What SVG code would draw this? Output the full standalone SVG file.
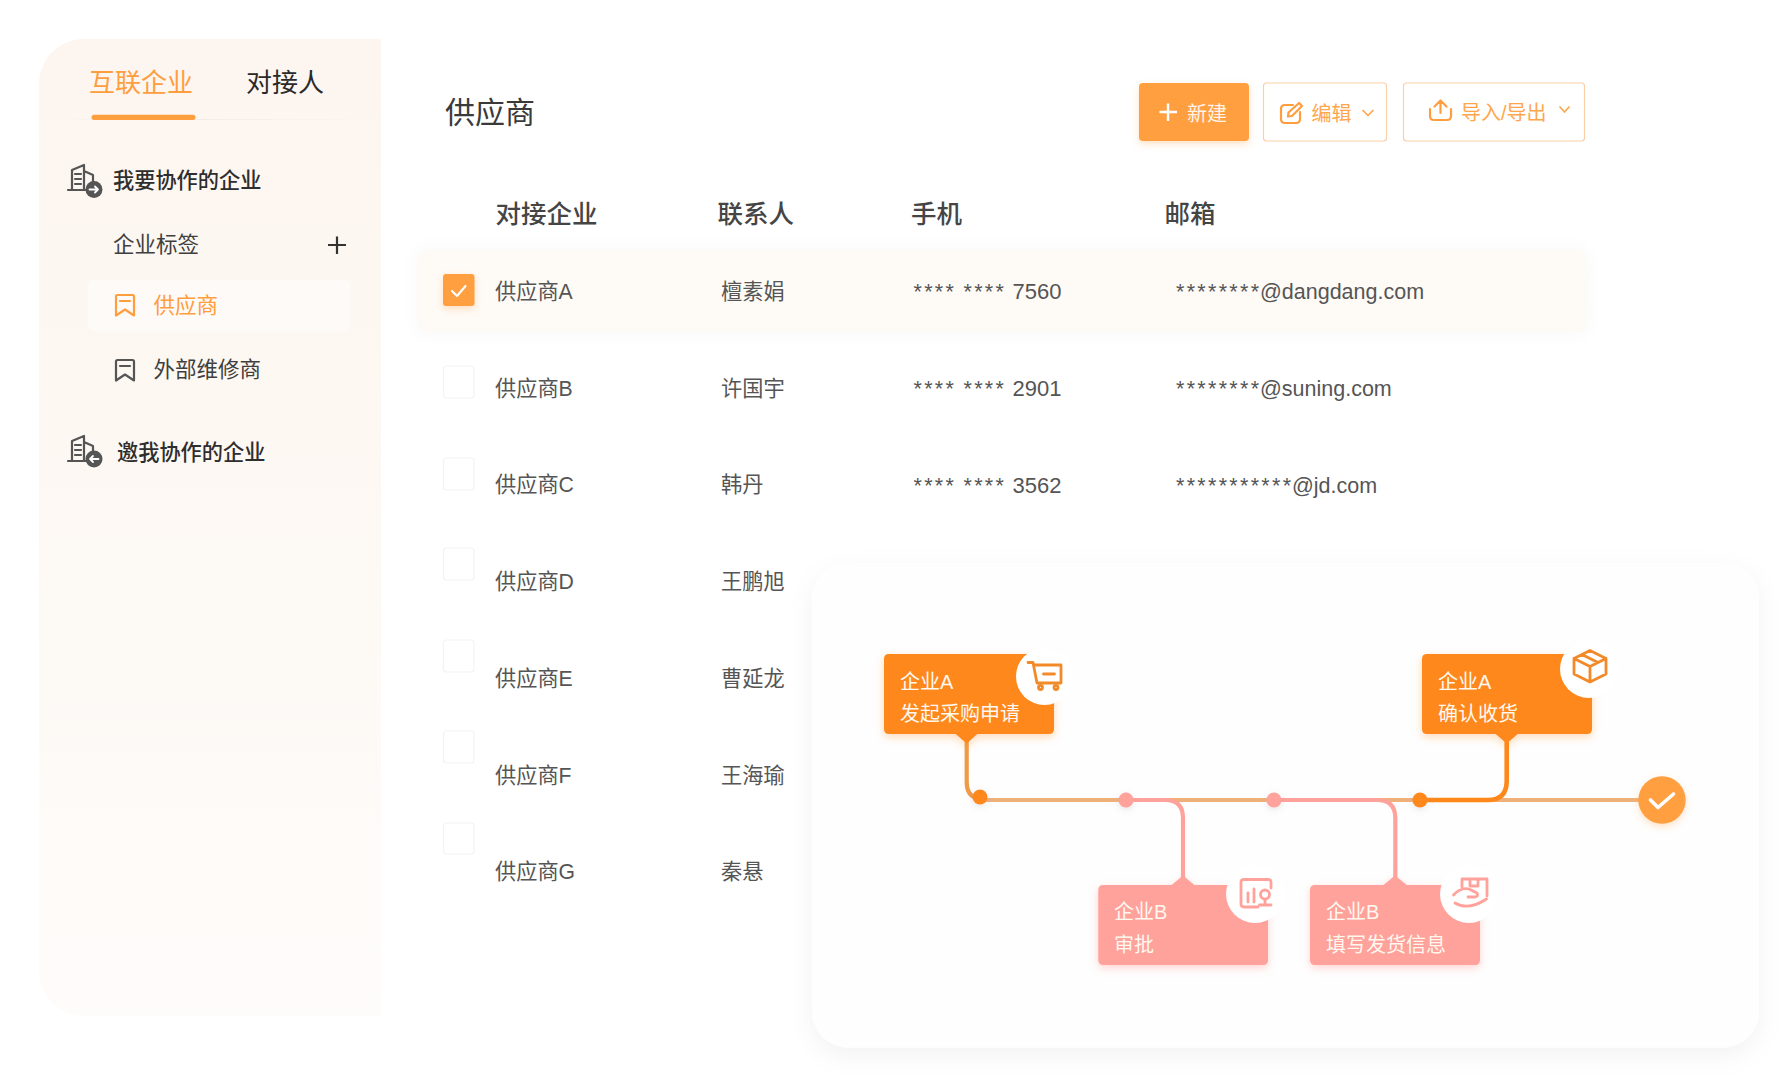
<svg xmlns="http://www.w3.org/2000/svg" width="1788" height="1087" viewBox="0 0 1788 1087">
<style>
text{font-family:"Liberation Sans","Noto Sans CJK SC",sans-serif;}
.tab{font-size:26px}
.side{font-size:21.500px;fill:#3f3f3f}
.sideb{font-size:21.200px;fill:#2e2e2e;font-weight:500}
.th{font-size:25.500px;fill:#454545;font-weight:500}
.td{font-size:21.200px;fill:#555}
.ph{font-size:22px;fill:#555}
.em{font-size:21.500px;fill:#555}
.star{letter-spacing:2.300px;font-size:21.500px}
.btn{font-size:20px;fill:#ffa64d}
.ntx{font-size:20px;fill:#fff8f0}
.cb{fill:#fff;stroke:#f3f3f3;stroke-width:1.200}
.ic{fill:none;stroke-linecap:round;stroke-linejoin:round}
.icg{stroke:#555;stroke-width:2.200}
.ico{stroke:#ff9e3f;stroke-width:2.200}
.icl{stroke:#ffa64d;stroke-width:1.700}
.icn{stroke:#f38a2a;stroke-width:2.800}
.icp{stroke:#ffa29b;stroke-width:2.800}
.ln{fill:none;stroke-linecap:round}
.outl{fill:#fff;stroke:#f9d0a8;stroke-width:1.200}
</style>
<defs>
<linearGradient id="sg" x1="0" y1="0" x2="0" y2="1"><stop offset="0" stop-color="#fdf6f0"/><stop offset="0.45" stop-color="#fdf8f3"/><stop offset="1" stop-color="#fefcfa"/></linearGradient>
<linearGradient id="dv" x1="0" y1="0" x2="1" y2="0"><stop offset="0" stop-color="#f3ece6" stop-opacity="0"/><stop offset="0.3" stop-color="#f0e8e1"/><stop offset="1" stop-color="#f3ece6" stop-opacity="0"/></linearGradient>
<filter id="fc" x="-10%" y="-10%" width="120%" height="125%"><feDropShadow dx="0" dy="8" stdDeviation="12" flood-color="#000" flood-opacity="0.05"/></filter>
<filter id="fr" x="-5%" y="-30%" width="110%" height="160%"><feDropShadow dx="0" dy="0" stdDeviation="10" flood-color="#f0ecef" flood-opacity="0.45"/></filter>
<filter id="fo" x="-20%" y="-30%" width="140%" height="170%"><feDropShadow dx="0" dy="3" stdDeviation="4" flood-color="#ff881b" flood-opacity="0.3"/></filter>
<filter id="fp" x="-20%" y="-30%" width="140%" height="170%"><feDropShadow dx="0" dy="3" stdDeviation="4" flood-color="#ffa29b" flood-opacity="0.45"/></filter>
<filter id="fd" x="-100%" y="-100%" width="300%" height="300%"><feDropShadow dx="0" dy="2" stdDeviation="3" flood-color="#888" flood-opacity="0.22"/></filter>
<filter id="fk" x="-50%" y="-50%" width="200%" height="200%"><feDropShadow dx="0" dy="3" stdDeviation="3.500" flood-color="#ff9e3f" flood-opacity="0.3"/></filter>
<g id="bld" class="ic icg"><path d="M68 190H93M72 190V170L84 165V190M84 171L93 175V183M75 174H81M75 179H81M75 184H81"/></g>
<path id="bm" d="M116 296.500Q116 295 117.500 295H132.500Q134 295 134 296.500V315.500L125 309.500L116 315.500ZM120 301H130"/>
</defs>

<g id="sidebar">
<path d="M84 39H381V1016H84A45 45 0 0 1 39 971V84A45 45 0 0 1 84 39Z" fill="url(#sg)"/>
<rect x="60" y="119" width="320" height="1" fill="url(#dv)"/>
<rect x="91.500" y="114.700" width="104" height="5.200" rx="2.600" fill="#ff9e3f"/>
</g>
<g id="tab-partner"><text class="tab" x="89" y="92" fill="#ff9e3f">互联企业</text></g>
<g id="tab-contact"><text class="tab" x="246" y="92" fill="#2a2a2a">对接人</text></g>

<g id="group-want">
<use href="#bld"/><circle cx="94" cy="189.500" r="8.500" fill="#555"/><path d="M89.500 189.500H98M95 186.500L98 189.500L95 192.500" fill="none" stroke="#fff" stroke-width="1.800" stroke-linecap="round" stroke-linejoin="round"/>
<text class="sideb" x="113" y="188">我要协作的企业</text>
</g>
<g id="group-tag">
<text class="side" x="113" y="252">企业标签</text>
<path d="M337 236.500V254M328 245H346" stroke="#333" stroke-width="2.200" fill="none"/>
</g>
<g id="item-supplier">
<rect x="88" y="279.500" width="262" height="52" rx="7" fill="#fdfaf8"/>
<use href="#bm" class="ic ico"/>
<text class="side" x="153.500" y="313" style="fill:#ff9e3f">供应商</text>
</g>
<g id="item-repair">
<use href="#bm" y="65" class="ic icg"/>
<text class="side" x="153.500" y="377">外部维修商</text>
</g>
<g id="group-invited">
<use href="#bld" y="271"/><circle cx="94" cy="459" r="8.500" fill="#555"/><path d="M98.500 459H90M93 456L90 459L93 462" fill="none" stroke="#fff" stroke-width="1.800" stroke-linecap="round" stroke-linejoin="round"/>
<text class="sideb" x="117" y="460">邀我协作的企业</text>
</g>

<g id="title"><text x="445" y="123" font-size="30" fill="#3a3a3a">供应商</text></g>
<g id="btn-new">
<rect x="1139" y="83" width="110" height="58" rx="4" fill="#ff9f40" filter="url(#fk)"/>
<path d="M1168 103.500V121M1159.500 112H1177" stroke="#fff" stroke-width="2.400" fill="none"/>
<text class="btn" x="1187" y="121" style="fill:#fff4e8">新建</text>
</g>
<g id="btn-edit">
<rect class="outl" x="1263.500" y="83" width="123" height="58" rx="3"/>
<path class="ic ico" d="M1293 105H1285Q1281 105 1281 109V119Q1281 123 1285 123H1296Q1300 123 1300 119V112M1299 103L1302 106L1292 116L1288 116.500L1288.500 112.500Z"/>
<text class="btn" x="1311.500" y="121">编辑</text>
<path class="ic icl" d="M1363 110.500L1368 115.500L1373 110.500"/>
</g>
<g id="btn-io">
<rect class="outl" x="1403.500" y="83" width="181" height="58" rx="3"/>
<path class="ic ico" d="M1430 109V116Q1430 120 1434 120H1447Q1451 120 1451 116V109M1440.500 113V101M1434.500 106.500L1440.500 100.500L1446.500 106.500"/>
<text class="btn" x="1461" y="120">导入/导出</text>
<path class="ic icl" d="M1560 107L1564.500 112L1569 107"/>
</g>

<g id="table-head">
<text class="th" x="495.500" y="223">对接企业</text>
<text class="th" x="717.500" y="223">联系人</text>
<text class="th" x="911" y="223">手机</text>
<text class="th" x="1164.500" y="223">邮箱</text>
</g>

<g id="row-a">
<rect x="418" y="250" width="1168" height="82" rx="8" fill="#fefaf6" filter="url(#fr)"/>
<rect x="443" y="274" width="31.500" height="32" rx="3" fill="#ff9f40" filter="url(#fk)"/>
<path d="M452 291L457 296L465.500 286" fill="none" stroke="#fff" stroke-width="2.200" stroke-linecap="round" stroke-linejoin="round"/>
<text class="td" x="495" y="298.500">供应商A</text>
<text class="td" x="721" y="298.500">檀素娟</text>
<text class="ph" x="913.500" y="298.500"><tspan class="star">****</tspan><tspan x="963.500" class="star">****</tspan><tspan x="1012.500">7560</tspan></text>
<text class="em" x="1176" y="298.500"><tspan class="star">********</tspan><tspan x="1260">@dangdang.com</tspan></text>
</g>
<g id="row-b">
<rect class="cb" x="443.500" y="366" width="30.500" height="32" rx="3"/>
<text class="td" x="495" y="395.500">供应商B</text>
<text class="td" x="721" y="395.500">许国宇</text>
<text class="ph" x="913.500" y="395.500"><tspan class="star">****</tspan><tspan x="963.500" class="star">****</tspan><tspan x="1012.500">2901</tspan></text>
<text class="em" x="1176" y="395.500"><tspan class="star">********</tspan><tspan x="1260">@suning.com</tspan></text>
</g>
<g id="row-c">
<rect class="cb" x="443.500" y="458" width="30.500" height="32" rx="3"/>
<text class="td" x="495" y="492">供应商C</text>
<text class="td" x="721" y="492">韩丹</text>
<text class="ph" x="913.500" y="493"><tspan class="star">****</tspan><tspan x="963.500" class="star">****</tspan><tspan x="1012.500">3562</tspan></text>
<text class="em" x="1176" y="493"><tspan class="star">***********</tspan><tspan x="1292">@jd.com</tspan></text>
</g>
<g id="row-d">
<rect class="cb" x="443.500" y="548" width="30.500" height="32" rx="3"/>
<text class="td" x="495" y="589">供应商D</text>
<text class="td" x="721" y="589">王鹏旭</text>
</g>
<g id="row-e">
<rect class="cb" x="443.500" y="640" width="30.500" height="32" rx="3"/>
<text class="td" x="495" y="686">供应商E</text>
<text class="td" x="721" y="686">曹延龙</text>
</g>
<g id="row-f">
<rect class="cb" x="443.500" y="731" width="30.500" height="32" rx="3"/>
<text class="td" x="495" y="783">供应商F</text>
<text class="td" x="721" y="783">王海瑜</text>
</g>
<g id="row-g">
<rect class="cb" x="443.500" y="823" width="30.500" height="31" rx="3"/>
<text class="td" x="495" y="878.500">供应商G</text>
<text class="td" x="721" y="878.500">秦悬</text>
</g>

<g id="flow" transform="translate(0 -1)">
<g id="card"><rect x="812" y="564" width="947" height="484.500" rx="36" fill="#fefefe" filter="url(#fc)"/></g>

<g id="connectors">
<path class="ln" d="M980 801H1650" stroke="#f0b07a" stroke-width="4.200"/>
<path class="ln" d="M966.700 742V783Q966.700 796 976 799" stroke="#f19a46" stroke-width="4.200"/>
<path class="ln" d="M1126 801H1165Q1183 801 1183 819V880" stroke="#ffa29b" stroke-width="4.200"/>
<path class="ln" d="M1274 801H1377Q1395.300 801 1395.300 819V880" stroke="#ffa29b" stroke-width="4.200"/>
<path class="ln" d="M1420 801H1488Q1506.700 801 1506.700 782V742" stroke="#ff881b" stroke-width="4.600"/>
</g>

<g id="dot-1"><circle cx="980" cy="798" r="7.500" fill="#ff881b" filter="url(#fd)"/></g>
<g id="dot-2"><circle cx="1126" cy="801" r="7.500" fill="#ffa29b" filter="url(#fd)"/></g>
<g id="dot-3"><circle cx="1274" cy="801" r="7.500" fill="#ffa29b" filter="url(#fd)"/></g>
<g id="dot-4"><circle cx="1420" cy="801" r="7.500" fill="#ff881b" filter="url(#fd)"/></g>

<g id="node-a1">
<path d="M889 655H1049Q1054 655 1054 660V730Q1054 735 1049 735H977.300L966.700 744.500L955.700 735H889Q884 735 884 730V660Q884 655 889 655Z" fill="#ff881b" filter="url(#fo)"/>
<circle cx="1044.500" cy="677.500" r="28.500" fill="#fff"/>
<path class="ic icn" d="M1028 663.500H1033L1037 684H1061V666H1035M1043.500 675H1054.500"/>
<circle class="ic icn" cx="1040.500" cy="688.500" r="2"/><circle class="ic icn" cx="1056" cy="688.500" r="2"/>
<text class="ntx" x="900" y="690">企业A</text>
<text class="ntx" x="900" y="722">发起采购申请</text>
</g>
<g id="node-a2">
<path d="M1427 655H1587Q1592 655 1592 660V730Q1592 735 1587 735H1517.700L1506.700 744.500L1495.700 735H1427Q1422 735 1422 730V660Q1422 655 1427 655Z" fill="#ff881b" filter="url(#fo)"/>
<circle cx="1589" cy="670" r="29" fill="#fff"/>
<path class="ic icn" d="M1590 651.500L1606 659.500V675L1590 683L1574 675V659.500ZM1574 659.500L1590 667.500L1606 659.500M1590 667.500V683M1582 655.500L1598 663.500"/>
<text class="ntx" x="1438" y="690">企业A</text>
<text class="ntx" x="1438" y="722">确认收货</text>
</g>
<g id="node-b1">
<path d="M1103.300 886H1171.700L1183 876.500L1194.300 886H1263Q1268 886 1268 891V961Q1268 966 1263 966H1103.300Q1098.300 966 1098.300 961V891Q1098.300 886 1103.300 886Z" fill="#ffa29b" filter="url(#fp)"/>
<circle cx="1255" cy="895" r="29" fill="#fff"/>
<path class="ic icp" d="M1271 889V883Q1271 880.500 1268 880.500H1244Q1241 880.500 1241 883V905Q1241 908 1244 908H1258M1248 894V903M1254 890V903M1265 900.500V906M1259.500 906H1271"/>
<circle class="ic icp" cx="1265" cy="895.500" r="4.500"/>
<text class="ntx" x="1114" y="920">企业B</text>
<text class="ntx" x="1114" y="953">审批</text>
</g>
<g id="node-b2">
<path d="M1315 886H1383.500L1395 876.500L1406.700 886H1475Q1480 886 1480 891V961Q1480 966 1475 966H1315Q1310 966 1310 961V891Q1310 886 1315 886Z" fill="#ffa29b" filter="url(#fp)"/>
<circle cx="1469" cy="895" r="29" fill="#fff"/>
<path class="ic icp" d="M1462 888V880H1487V897M1470 880.500V887H1478V880.500M1453.500 896Q1461 888 1469 890L1477 894Q1479 897 1475 898H1468M1455 904Q1468 912 1486.500 900"/>
<text class="ntx" x="1326" y="920">企业B</text>
<text class="ntx" x="1326" y="953">填写发货信息</text>
</g>
<g id="end">
<circle cx="1662" cy="801" r="23.700" fill="#ff9f40" filter="url(#fk)"/>
<path d="M1650.500 801L1658 808.500L1673.500 795" fill="none" stroke="#fff" stroke-width="3.600" stroke-linecap="round" stroke-linejoin="round"/>
</g>
</g>
</svg>
